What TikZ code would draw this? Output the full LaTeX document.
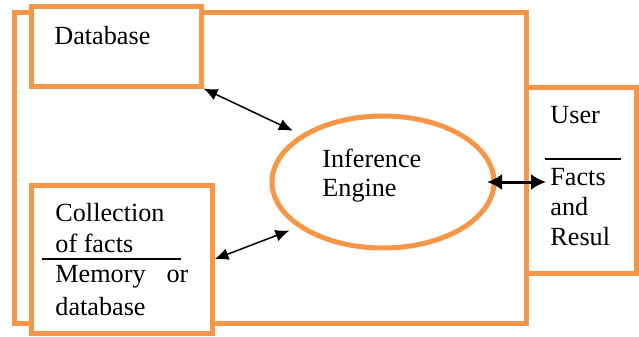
\documentclass[tikz,border=0pt]{standalone}
\usepackage{fontspec}
\setmainfont{Liberation Serif}
\usetikzlibrary{arrows.meta,positioning,shapes.geometric}

\begin{document}
\begin{tikzpicture}[x=0.5pt,y=-0.5pt,
    frame/.style={rectangle,line width=2.5pt,draw={rgb,255:red,247; green,150; blue,70},fill=white,inner sep=0pt},
    engine/.style={ellipse,line width=2.5pt,draw={rgb,255:red,247; green,150; blue,70},fill=white,inner sep=0pt,minimum width=111pt,minimum height=66pt},
    txt/.style={anchor=base west,inner sep=0pt,align=left,font=\fontsize{13.1}{15.5}\selectfont},
    link/.style={line width=0.75pt,{Latex[length=7pt,width=6pt]}-{Latex[length=7pt,width=6pt]}},
    userlink/.style={line width=1.5pt,{Latex[length=7.5pt,width=8pt]}-{Latex[length=7.5pt,width=8pt]}},
   ]
    \useasboundingbox (0,0) rectangle (639,337);

    \node (outer) [frame,minimum width=255.75pt,minimum height=155.25pt] at (270.25,167.75) {};
    \node (db)    [frame,minimum width=84.75pt,minimum height=39.75pt] at (116.25,46.25) {};
    \node (coll)  [frame,minimum width=90.25pt,minimum height=73.75pt] at (121.75,259.25) {};
    \node (user)  [frame,minimum width=55pt,minimum height=93pt] at (581,180) {};
    \node (eng)   [engine] at (383,182) {};

    % multi-line texts sit on the baseline of their last line
    \node (dbtxt)   [txt] at (54,45) {Database};
    \node (colltxt) [txt] at (55,252) {Collection\\of facts};
    \node (memtxt)  [txt,font=\fontsize{13.1}{16.5}\selectfont] at (55,315) {Memory\hspace{0.55em} or\\database};
    \node (usertxt) [txt] at (550,123) {User};
    \node (facts)   [txt,font=\fontsize{13.1}{15}\selectfont] at (550,245) {Facts\\and\\Resul};
    \node (engtxt)  [txt,font=\fontsize{13.1}{15}\selectfont] at (322,197) {Inference\\Engine};

    % rules between the texts
    \draw[line width=1pt] (42,259) -- (181,259);
    \draw[line width=1pt] (545,159) -- (621,159);

    \draw[link,shorten >=4.5pt] (db.south east) -- (eng.150);
    \draw[link,shorten >=4.5pt] (coll.east) -- (eng.208);
    \draw[userlink,yshift=-1.5pt,shorten <=-4.75pt,shorten >=2pt] (eng.east) -- (eng.east -| facts.west);
\end{tikzpicture}
\end{document}
